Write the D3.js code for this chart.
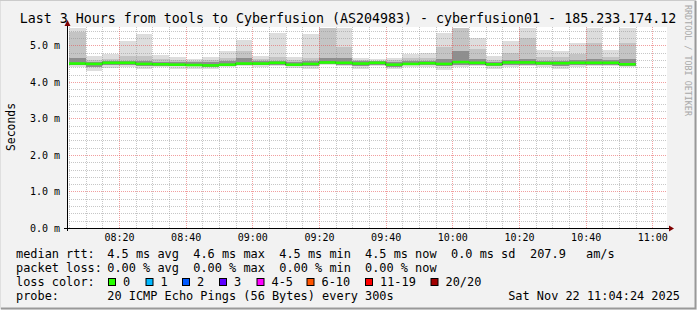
<!DOCTYPE html>
<html>
<head>
<meta charset="utf-8">
<script src="https://cdn.jsdelivr.net/npm/d3@7"></script>
<style>
  body { margin: 0; background: #f2f2f2; }
  svg text { font-family: 'DejaVu Sans Mono', monospace; fill: #000; }
</style>
</head>
<body>
<div id="chart"></div>
<script>
// 5 minute bins (end time of each bin), values in ms
const binEnd = ['08:10','08:15','08:20','08:25','08:30','08:35','08:40','08:45','08:50','08:55',
  '09:00','09:05','09:10','09:15','09:20','09:25','09:30','09:35','09:40','09:45',
  '09:50','09:55','10:00','10:05','10:10','10:15','10:20','10:25','10:30','10:35',
  '10:40','10:45','10:50','10:55'];

const rttMedian = [4.50,4.49,4.52,4.52,4.49,4.48,4.47,4.46,4.45,4.47,
  4.50,4.50,4.52,4.47,4.49,4.53,4.52,4.50,4.52,4.47,
  4.49,4.51,4.49,4.54,4.52,4.48,4.53,4.53,4.51,4.51,
  4.52,4.52,4.52,4.48];
const rttMax = [5.47,4.70,4.76,5.11,5.31,4.74,4.68,4.63,4.68,4.84,
  5.15,4.70,5.34,4.67,5.30,5.48,5.48,4.65,4.63,4.65,
  4.77,4.80,5.34,5.48,5.19,4.70,5.11,5.48,4.86,4.84,
  5.06,5.48,4.86,5.48];
const rttHigh = [5.36,4.60,4.62,4.70,4.71,4.62,4.60,4.58,4.60,4.66,
  4.84,4.62,4.68,4.60,4.66,5.46,4.94,4.60,4.58,4.60,
  4.66,4.66,4.94,5.46,4.89,4.60,4.80,5.21,4.68,4.68,
  4.77,5.07,4.68,5.07];
const rttCore = [4.66,4.55,4.57,4.58,4.58,4.55,4.54,4.53,4.53,4.56,
  4.66,4.56,4.58,4.54,4.58,4.64,4.64,4.56,4.56,4.54,
  4.57,4.58,4.62,4.84,4.62,4.54,4.60,4.62,4.58,4.58,
  4.60,4.62,4.60,4.62];
const rttLow = [4.45,4.40,4.45,4.46,4.42,4.44,4.42,4.42,4.40,4.44,
  4.46,4.45,4.47,4.43,4.43,4.48,4.47,4.43,4.47,4.41,
  4.45,4.46,4.42,4.47,4.47,4.42,4.45,4.47,4.46,4.42,
  4.46,4.47,4.47,4.44];
const rttMin = [4.41,4.30,4.39,4.41,4.35,4.40,4.34,4.35,4.36,4.41,
  4.42,4.40,4.44,4.38,4.36,4.46,4.44,4.36,4.44,4.34,
  4.41,4.41,4.32,4.41,4.42,4.34,4.40,4.42,4.41,4.34,
  4.41,4.43,4.42,4.40];

const yTicks = [0, 1, 2, 3, 4, 5];
const lossLabels = ['0', '1', '2', '3', '4-5', '6-10', '11-19', '20/20'];
const lossColors = ['#26ff00', '#00b8ff', '#0059ff', '#5e00ff', '#ff00ff', '#ff5500', '#ff0000', '#a10000'];

const title = 'Last 3 Hours from tools to Cyberfusion (AS204983) - cyberfusion01 - 185.233.174.12';
const statLines = [
  ['median rtt:', '4.5 ms avg', '4.6 ms max', '4.5 ms min', '4.5 ms now', '0.0 ms sd', '207.9', 'am/s'],
  ['packet loss:', '0.00 % avg', '0.00 % max', '0.00 % min', '0.00 % now']
];
const probeText = '20 ICMP Echo Pings (56 Bytes) every 300s';
const stampText = 'Sat Nov 22 11:04:24 2025';

const width = 697, height = 310;
const plot = { left: 67, right: 667, top: 27, bottom: 228 };

const parse = d3.timeParse('%Y-%m-%d %H:%M:%S');
const tStart = parse('2025-11-22 08:04:24');
const tEnd = parse('2025-11-22 11:04:24');

const svg = d3.select('#chart').append('svg')
  .attr('width', width).attr('height', height);

// background + 3d frame
svg.append('rect').attr('width', width).attr('height', height).attr('fill', '#f2f2f2');
svg.append('path').attr('d', `M0,${height - 1}V0.5H${width - 1}`)
  .attr('fill', 'none').attr('stroke', '#cbcbcb').attr('stroke-width', 1);
svg.append('path').attr('d', `M1,${height - 1.5}H${width - 1.5}V1`)
  .attr('fill', 'none').attr('stroke', '#999').attr('stroke-width', 2);

const x = d3.scaleTime().domain([tStart, tEnd]).range([plot.left, plot.right]);
const y = d3.scaleLinear().domain([0, 5.5]).range([plot.bottom, plot.top]);

// canvas
svg.append('rect')
  .attr('x', plot.left).attr('y', plot.top)
  .attr('width', plot.right - plot.left).attr('height', plot.bottom - plot.top)
  .attr('fill', '#fff');

// bins
const step = 5 * 60 * 1000;
const bins = binEnd.map((t, i) => {
  const e = parse('2025-11-22 ' + t + ':00');
  return {
    x0: x(new Date(Math.max(+tStart, +e - step))),
    x1: x(e),
    min: rttMin[i], low: rttLow[i], med: rttMedian[i],
    core: rttCore[i], high: rttHigh[i], max: rttMax[i]
  };
});

// smoke bands, light to dark
const bands = [
  { lo: 'min', hi: 'max', color: '#dddddd' },
  { lo: 'low', hi: 'high', color: '#c4c4c4' },
  { lo: 'low', hi: 'core', color: '#8e8e8e' }
];
const smoke = svg.append('g').attr('shape-rendering', 'crispEdges');
bands.forEach(b => {
  smoke.selectAll(null)
    .data(bins)
    .enter()
    .append('rect')
    .attr('x', d => d.x0)
    .attr('width', d => d.x1 - d.x0)
    .attr('y', d => y(d[b.hi]))
    .attr('height', d => y(d[b.lo]) - y(d[b.hi]))
    .attr('fill', b.color);
});

// grid
const grid = svg.append('g').attr('shape-rendering', 'crispEdges');
const minorY = d3.range(0.2, 5.5, 0.2).filter(v => Math.abs(v - Math.round(v)) > 1e-6);
const minorX = d3.timeMinute.every(5).range(tStart, tEnd).filter(d => d.getMinutes() % 20 !== 0);
const majorX = d3.timeMinute.every(20).range(tStart, tEnd);

grid.selectAll('.minor-y').data(minorY).enter().append('line')
  .attr('x1', plot.left).attr('x2', plot.right)
  .attr('y1', d => Math.round(y(d)) + 0.5).attr('y2', d => Math.round(y(d)) + 0.5)
  .attr('stroke', 'rgba(143,143,143,0.5)').attr('stroke-dasharray', '1,1');
grid.selectAll('.minor-x').data(minorX).enter().append('line')
  .attr('y1', plot.top).attr('y2', plot.bottom)
  .attr('x1', d => Math.round(x(d)) + 0.5).attr('x2', d => Math.round(x(d)) + 0.5)
  .attr('stroke', 'rgba(143,143,143,0.5)').attr('stroke-dasharray', '1,1');
grid.selectAll('.major-y').data(yTicks.slice(1)).enter().append('line')
  .attr('x1', plot.left).attr('x2', plot.right)
  .attr('y1', d => Math.round(y(d)) + 0.5).attr('y2', d => Math.round(y(d)) + 0.5)
  .attr('stroke', 'rgba(230,80,80,0.55)').attr('stroke-dasharray', '1,1');
grid.selectAll('.major-x').data(majorX).enter().append('line')
  .attr('y1', plot.top).attr('y2', plot.bottom)
  .attr('x1', d => Math.round(x(d)) + 0.5).attr('x2', d => Math.round(x(d)) + 0.5)
  .attr('stroke', 'rgba(230,80,80,0.55)').attr('stroke-dasharray', '1,1');

// median: thin dark step underneath, loss coloured segments on top
const stepLine = d3.line().curve(d3.curveStepAfter)
  .x(d => d.x).y(d => d.y);
const stepPts = bins.map(d => ({ x: d.x0, y: y(d.med) }));
stepPts.push({ x: bins[bins.length - 1].x1, y: y(bins[bins.length - 1].med) });
svg.append('path').attr('d', stepLine(stepPts))
  .attr('fill', 'none').attr('stroke', '#303030').attr('stroke-width', 1.2);
svg.append('g').selectAll('line')
  .data(bins)
  .enter()
  .append('line')
  .attr('x1', d => d.x0).attr('x2', d => d.x1)
  .attr('y1', d => y(d.med)).attr('y2', d => y(d.med))
  .attr('stroke', lossColors[0]).attr('stroke-width', 2.6);

// axes
const axisG = svg.append('g').attr('shape-rendering', 'crispEdges');
axisG.append('line').attr('x1', plot.left - 3).attr('x2', plot.right + 3)
  .attr('y1', plot.bottom + 0.5).attr('y2', plot.bottom + 0.5).attr('stroke', '#000');
axisG.append('line').attr('x1', plot.left + 0.5).attr('x2', plot.left + 0.5)
  .attr('y1', plot.bottom + 3).attr('y2', plot.top - 3).attr('stroke', '#000');
svg.append('path')
  .attr('d', `M${plot.right + 2},${plot.bottom - 2.5}L${plot.right + 7},${plot.bottom + 0.5}L${plot.right + 2},${plot.bottom + 3.5}Z`)
  .attr('fill', '#7f0000');
svg.append('path')
  .attr('d', `M${plot.left - 2.5},${plot.top - 1}L${plot.left + 0.5},${plot.top - 7}L${plot.left + 3.5},${plot.top - 1}Z`)
  .attr('fill', '#7f0000');

const yAxis = svg.append('g')
  .attr('transform', `translate(${plot.left},0)`)
  .call(d3.axisLeft(y).tickValues(yTicks).tickFormat(d => d.toFixed(1) + ' m').tickSize(0).tickPadding(7));
yAxis.select('.domain').remove();
yAxis.selectAll('text').style('font-family', "'DejaVu Sans Mono', monospace").style('font-size', '10px');

const xAxis = svg.append('g')
  .attr('transform', `translate(0,${plot.bottom})`)
  .call(d3.axisBottom(x).tickValues(majorX).tickFormat(d3.timeFormat('%H:%M')).tickSize(0).tickPadding(6));
xAxis.select('.domain').remove();
xAxis.selectAll('text').style('font-family', "'DejaVu Sans Mono', monospace").style('font-size', '10px');

// titles
svg.append('text').attr('x', 348).attr('y', 23).attr('text-anchor', 'middle')
  .style('font-size', '13.3px').text(title);
svg.append('text').attr('transform', 'translate(15,127) rotate(-90)').attr('text-anchor', 'middle')
  .style('font-size', '11.4px').text('Seconds');
svg.append('text').attr('transform', 'translate(685,5) rotate(90)')
  .style('font-size', '8.4px').style('fill', '#a8a8a8').text('RRDTOOL / TOBI OETIKER');

// legend
const legFont = '11.9px';
const colX = [16, 107.3, 193.3, 279.3, 365, 451, 530, 586];
statLines.forEach((line, r) => {
  line.forEach((s, c) => {
    svg.append('text').attr('x', colX[c]).attr('y', 258 + r * 14)
      .style('font-size', legFont).text(s);
  });
});

svg.append('text').attr('x', 16).attr('y', 286).style('font-size', legFont).text('loss color:');
const boxX = [108, 145.5, 182, 219, 256.5, 306.5, 365, 430.5];
const lossG = svg.append('g').selectAll('g')
  .data(lossLabels)
  .enter()
  .append('g')
  .attr('transform', (d, i) => `translate(${boxX[i]},0)`);
lossG.append('rect')
  .attr('x', 0.5).attr('y', 278.5).attr('width', 7).attr('height', 7)
  .attr('fill', (d, i) => lossColors[i]).attr('stroke', '#000').attr('stroke-width', 1);
lossG.append('text')
  .attr('x', 15).attr('y', 286)
  .style('font-size', legFont).text(d => d);

svg.append('text').attr('x', 16).attr('y', 300).style('font-size', legFont).text('probe:');
svg.append('text').attr('x', 107.3).attr('y', 300).style('font-size', legFont).text(probeText);
svg.append('text').attr('x', 680).attr('y', 300).attr('text-anchor', 'end').style('font-size', legFont).text(stampText);
</script>
</body>
</html>
